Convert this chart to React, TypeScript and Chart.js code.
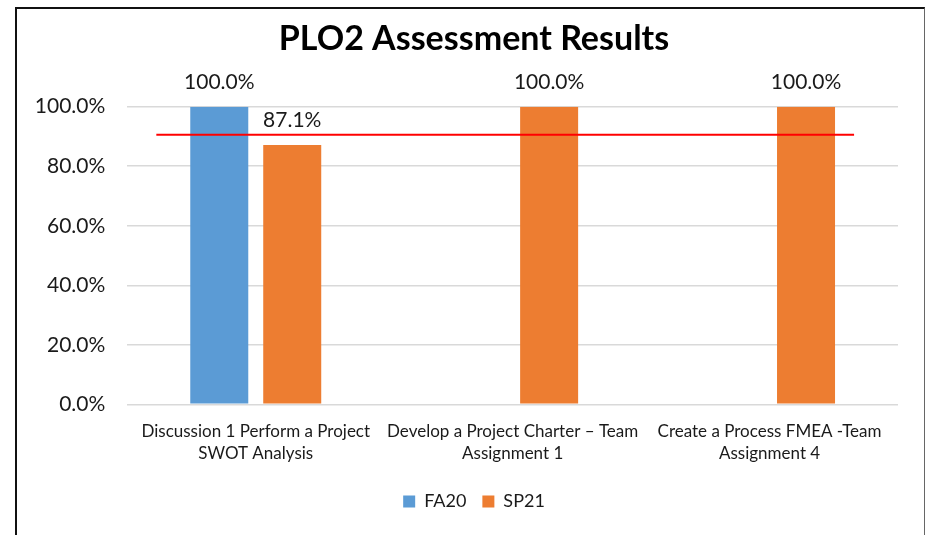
import React, { useEffect, useRef } from "react";
import { Chart, registerables } from "chart.js";

Chart.register(...registerables);

// ---- data ----
const TITLE = "PLO2 Assessment Results";
const CATEGORIES: string[][] = [
  ["Discussion 1 Perform a Project", "SWOT Analysis"],
  ["Develop a Project Charter – Team", "Assignment 1"],
  ["Create a Process FMEA -Team", "Assignment 4"],
];
const SERIES_NAMES = ["FA20", "SP21"];
const FA20: (number | null)[] = [100, null, null];
const SP21: (number | null)[] = [87.1, 100, 100];
const Y_MIN = 0;
const Y_MAX = 100;
const Y_STEP = 20;
const TARGET = 90.6;
const TARGET_SPAN = [-0.387, 2.329]; // in category-index units

// ---- style ----
const FONT = "Lato, 'Open Sans', sans-serif";
const BLUE = "#5B9BD5";
const ORANGE = "#ED7D31";
const TEXT = "#1a1a1a";

const overlayPlugin = {
  id: "overlay",
  afterDatasetsDraw(chart: any) {
    const ctx = chart.ctx as CanvasRenderingContext2D;
    const xs = chart.scales.x;
    const ys = chart.scales.y;
    ctx.save();
    // target line
    const y = ys.getPixelForValue(TARGET);
    ctx.strokeStyle = "#FF0000";
    ctx.lineWidth = 2;
    ctx.beginPath();
    ctx.moveTo(xs.getPixelForValue(TARGET_SPAN[0]), y);
    ctx.lineTo(xs.getPixelForValue(TARGET_SPAN[1]), y);
    ctx.stroke();
    // value labels
    ctx.font = `21px ${FONT}`;
    ctx.fillStyle = TEXT;
    ctx.textAlign = "center";
    ctx.textBaseline = "alphabetic";
    chart.data.datasets.forEach((ds: any, i: number) => {
      const meta = chart.getDatasetMeta(i);
      meta.data.forEach((bar: any, j: number) => {
        const v = ds.data[j];
        if (v == null) return;
        ctx.fillText(v.toFixed(1) + "%", bar.x, bar.y - 18);
      });
    });
    ctx.restore();
  },
};

export default function App() {
  const ref = useRef<HTMLCanvasElement | null>(null);

  useEffect(() => {
    document.body.style.margin = "0";
    if (!ref.current) return;
    const chart = new Chart(ref.current, {
      type: "bar",
      data: {
        labels: CATEGORIES,
        datasets: [
          { label: SERIES_NAMES[0], data: FA20, backgroundColor: BLUE, categoryPercentage: 0.568, barPercentage: 0.795 },
          { label: SERIES_NAMES[1], data: SP21, backgroundColor: ORANGE, categoryPercentage: 0.568, barPercentage: 0.795 },
        ],
      },
      options: {
        responsive: false,
        animation: false,
        layout: { padding: { left: 30, right: 9, top: 0, bottom: 14.5 } },
        plugins: {
          title: {
            display: true,
            text: TITLE,
            color: "#000",
            font: { family: FONT, size: 34, weight: "bold" },
            padding: { top: 19, bottom: 46.9 },
          },
          legend: {
            position: "bottom",
            labels: {
              color: TEXT,
              font: { family: FONT, size: 18 },
              boxWidth: 12,
              boxHeight: 12,
              padding: 16,
            },
          },
          tooltip: { enabled: false },
        },
        scales: {
          x: {
            grid: { display: false },
            border: { display: false },
            ticks: {
              color: TEXT,
              font: { family: FONT, size: 17, lineHeight: 1.3 },
              padding: 8,
              maxRotation: 0,
              autoSkip: false,
            },
            afterFit(scale: any) {
              scale.height = 72.2;
            },
          },
          y: {
            min: Y_MIN,
            max: Y_MAX,
            border: { display: false },
            grid: { color: "#d9d9d9", lineWidth: 1.5, drawTicks: false },
            ticks: {
              stepSize: Y_STEP,
              color: TEXT,
              font: { family: FONT, size: 21 },
              padding: 22,
              callback: (v: any) => Number(v).toFixed(1) + "%",
            },
            afterFit(scale: any) {
              scale.width = 97.3;
            },
          },
          yRightSpace: {
            type: "linear",
            position: "right",
            min: Y_MIN,
            max: Y_MAX,
            border: { display: false },
            grid: { display: false, drawOnChartArea: false },
            ticks: { display: false },
            afterFit(scale: any) {
              scale.width = 20;
            },
          },
        },
      },
      plugins: [overlayPlugin],
    });
    return () => chart.destroy();
  }, []);

  return (
    <div style={{ position: "relative", width: 927, height: 535, overflow: "hidden", background: "#fff" }}>
      <canvas ref={ref} width={927} height={535} style={{ display: "block" }} />
      <div
        style={{
          position: "absolute",
          left: 15,
          top: 7,
          width: 910,
          height: 600,
          boxSizing: "border-box",
          borderTop: "2px solid #111",
          borderLeft: "2px solid #111",
          borderRight: "1.5px solid #666",
          pointerEvents: "none",
        }}
      />
    </div>
  );
}
